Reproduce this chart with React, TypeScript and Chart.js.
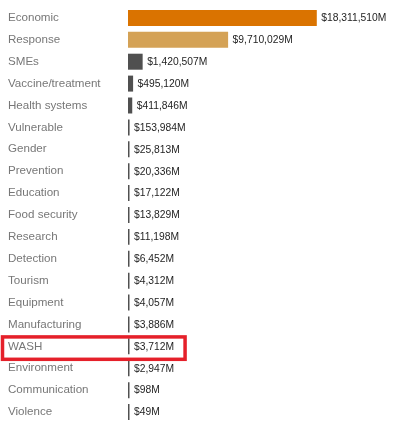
import React, { useEffect, useRef } from "react";
import { Chart, registerables } from "chart.js";

Chart.register(...registerables);

const categories = [
  "Economic", "Response", "SMEs", "Vaccine/treatment", "Health systems",
  "Vulnerable", "Gender", "Prevention", "Education", "Food security",
  "Research", "Detection", "Tourism", "Equipment", "Manufacturing",
  "WASH", "Environment", "Communication", "Violence",
];
const values = [
  18311510, 9710029, 1420507, 495120, 411846,
  153984, 25813, 20336, 17122, 13829,
  11198, 6452, 4312, 4057, 3886,
  3712, 2947, 98, 49,
];
const valueLabels = [
  "$18,311,510M", "$9,710,029M", "$1,420,507M", "$495,120M", "$411,846M",
  "$153,984M", "$25,813M", "$20,336M", "$17,122M", "$13,829M",
  "$11,198M", "$6,452M", "$4,312M", "$4,057M", "$3,886M",
  "$3,712M", "$2,947M", "$98M", "$49M",
];
const highlighted = "WASH";
const barColors = ["#DA7300", "#D4A256"];
const defaultBarColor = "#505050";

const FONT = "'Liberation Sans', Arial, sans-serif";

export default function App() {
  const ref = useRef<HTMLCanvasElement>(null);
  useEffect(() => {
    document.body.style.margin = "0";
    const labelPlugin = {
      id: "valueLabels",
      afterDatasetsDraw(chart: any) {
        const ctx = chart.ctx;
        const meta = chart.getDatasetMeta(0);
        ctx.save();
        ctx.font = `10.3px ${FONT}`;
        ctx.fillStyle = "#1e1e1e";
        ctx.textBaseline = "middle";
        ctx.textAlign = "left";
        meta.data.forEach((bar: any, i: number) => {
          ctx.fillText(valueLabels[i], bar.x + 4.5, bar.y + 0.5);
        });
        // highlight box
        const idx = categories.indexOf(highlighted);
        if (idx >= 0) {
          const bar = meta.data[idx];
          const w = ctx.measureText(valueLabels[idx]).width;
          const yScale = chart.scales.y;
          const band = yScale.getPixelForValue(1) - yScale.getPixelForValue(0);
          ctx.strokeStyle = "#E5202A";
          ctx.lineWidth = 3.5;
          const top = bar.y - band / 2 + 1.5;
          const right = bar.x + 4.5 + w + 11;
          ctx.strokeRect(2.5, top, right - 2.5, band + 0.5);
        }
        ctx.restore();
      },
    };
    const chart = new Chart(ref.current!, {
      type: "bar",
      data: {
        labels: categories,
        datasets: [
          {
            data: values,
            backgroundColor: values.map((_, i) => barColors[i] ?? defaultBarColor),
            categoryPercentage: 1,
            barPercentage: 0.73,
            minBarLength: 1.5,
            borderWidth: 0,
          },
        ],
      },
      options: {
        indexAxis: "y",
        animation: false,
        responsive: false,
        maintainAspectRatio: false,
        layout: { padding: { left: 8, top: 5, bottom: 7, right: 0 } },
        plugins: { legend: { display: false }, tooltip: { enabled: false } },
        scales: {
          x: {
            min: 0,
            max: 25800000,
            display: false,
            grid: { display: false },
          },
          y: {
            grid: { display: false },
            border: { display: false },
            ticks: {
              crossAlign: "far",
              color: "#777777",
              font: { family: FONT, size: 11.6 },
              padding: 0,
              autoSkip: false,
            },
            afterFit(scale: any) {
              scale.width = 120;
            },
          },
        },
      },
      plugins: [labelPlugin],
    } as any);
    return () => chart.destroy();
  }, []);
  return (
    <div style={{ position: "absolute", left: 0, top: 0, width: 394, height: 430, background: "#fff" }}>
      <canvas ref={ref} width={394} height={430} style={{ width: 394, height: 430 }} />
    </div>
  );
}
